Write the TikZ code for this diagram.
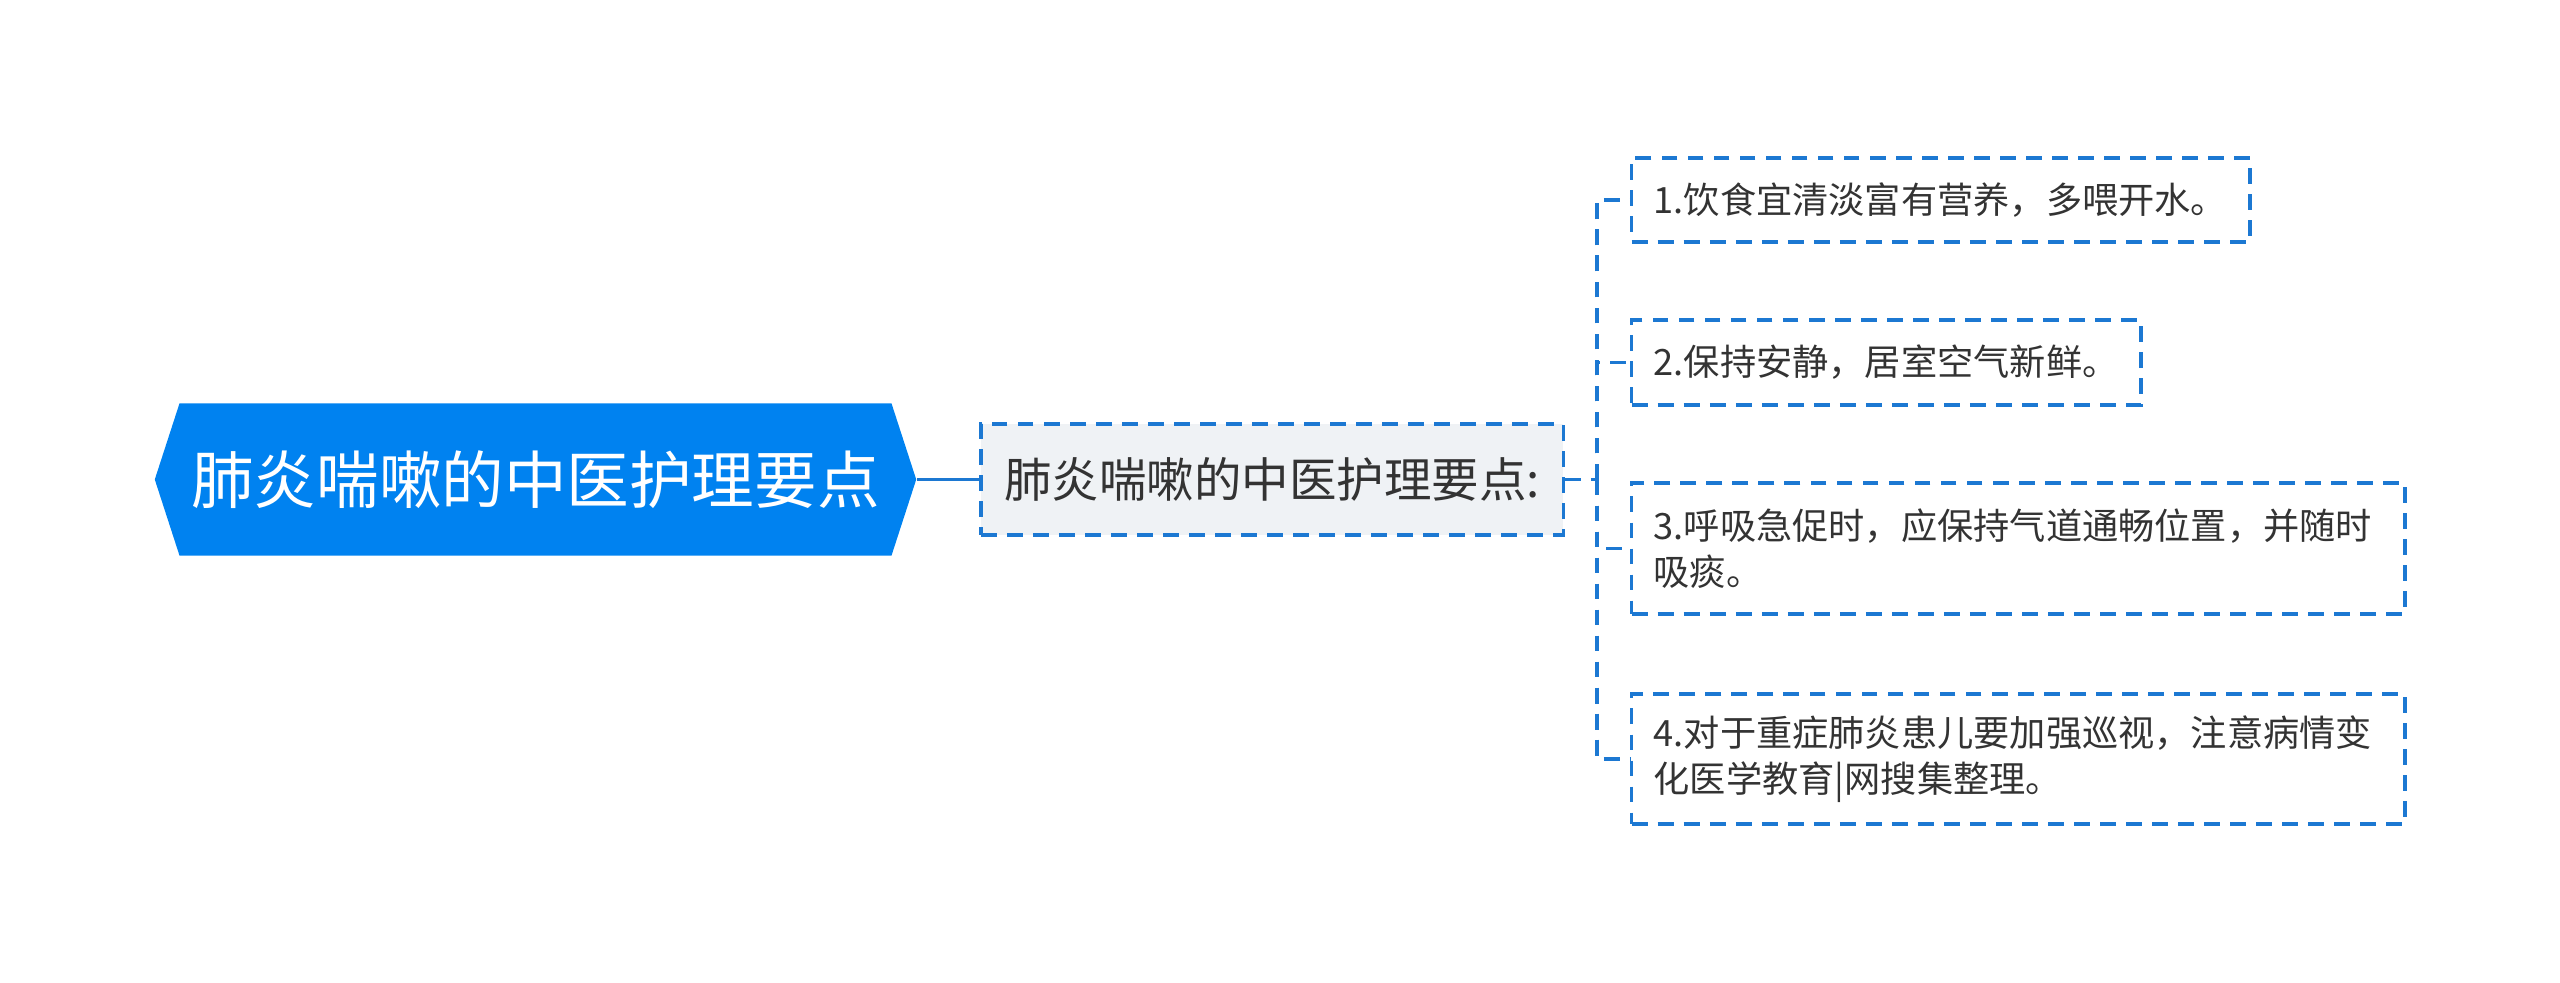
\documentclass[tikz,border=0pt]{standalone}
\usepackage{fontspec}
\setmainfont{Noto Sans CJK SC}
\usetikzlibrary{positioning, shapes.symbols}
\definecolor{rootc}{HTML}{0082F0}
\definecolor{linec}{HTML}{1C78D2}
\definecolor{subc}{HTML}{EFF2F5}
\definecolor{inkc}{HTML}{333333}

\begin{document}
\begin{tikzpicture}[x=0.01cm, y=-0.01cm,
      hexr/.style={shape=signal, signal to=west and east, signal pointer angle=144,
                   fill=rootc, text=white, minimum width=7.61cm, minimum height=1.52cm,
                   inner sep=0pt, font=\fontsize{17.8}{21}\selectfont},
      dsh/.style={draw=linec, line width=0.95pt, dash pattern=on 4.5pt off 2.9pt},
      sub/.style={dsh, fill=subc, text=inkc, minimum width=5.82cm, minimum height=1.11cm,
                  inner sep=0pt, font=\fontsize{13.5}{16}\selectfont},
      leaf/.style={dsh, text=inkc, anchor=west, align=left, inner xsep=0.22cm,
                   inner ysep=0pt, font=\fontsize{10.3}{13.1}\selectfont},
      lk/.style={linec, line width=1.1pt}]
    \useasboundingbox (0,0) rectangle (2560,983);
    \node[hexr] (root) at (535.5,479.5) {肺炎喘嗽的中医护理要点};
    \node[sub] (pts) at (1272,479.5) {肺炎喘嗽的中医护理要点:};
    \node[leaf, text width=5.74cm, minimum height=0.84cm] (c1) at (1630,200)
      {1.饮食宜清淡富有营养，多喂开水。};
    \node[leaf, text width=4.65cm, minimum height=0.85cm] (c2) at (1630,362.5)
      {2.保持安静，居室空气新鲜。};
    \node[leaf, text width=7.29cm, minimum height=1.31cm] (c3) at (1630,548.5)
      {3.呼吸急促时，应保持气道通畅位置，并随时\\吸痰。};
    \node[leaf, text width=7.29cm, minimum height=1.30cm] (c4) at (1630,759)
      {4.对于重症肺炎患儿要加强巡视，注意病情变\\化医学教育|网搜集整理。};
    \coordinate (fork) at (1597,479.5);
    \draw[lk] (root.east) -- (pts.west);
    \draw[lk, dsh] (pts.east) -- (fork);
    \foreach \c in {c1,c2,c3,c4}
      \draw[lk, dsh] (fork) |- (\c.west);
  \end{tikzpicture}
\end{document}
